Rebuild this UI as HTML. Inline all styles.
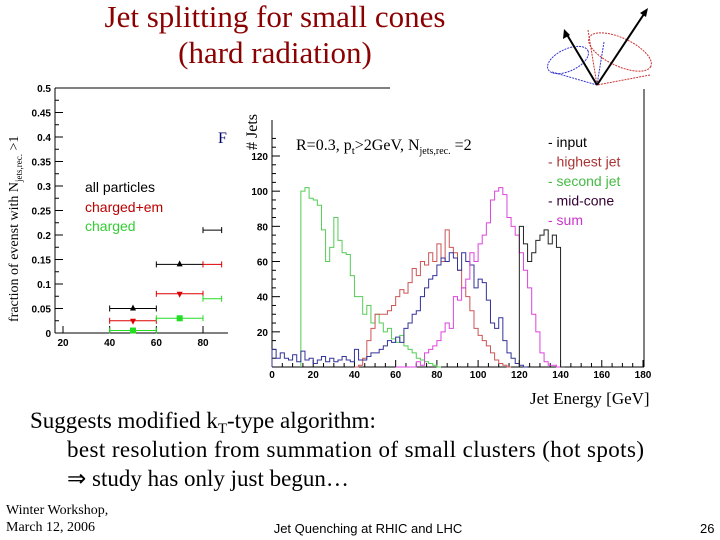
<!DOCTYPE html>
<html><head><meta charset="utf-8"><style>
body{margin:0;background:#fff;width:720px;height:540px;overflow:hidden}
svg{display:block}
.ser{font-family:"Liberation Serif",serif}
.san{font-family:"Liberation Sans",sans-serif}
</style></head><body>
<svg id="s" width="720" height="540" xmlns="http://www.w3.org/2000/svg">
<text class="ser" x="275" y="27" font-size="31" fill="#8b0000" text-anchor="middle">Jet splitting for small cones</text>
<text class="ser" x="275" y="63" font-size="31" fill="#8b0000" text-anchor="middle">(hard radiation)</text>
<g fill="none">
<ellipse cx="568" cy="60" rx="22" ry="11" stroke="#33c" stroke-dasharray="2,1" transform="rotate(-25 568 60)"/>
<line x1="552" y1="72" x2="597" y2="85" stroke="#33c" stroke-dasharray="2,1"/>
<line x1="604" y1="42" x2="597" y2="85" stroke="#33c" stroke-dasharray="2,1"/>
<ellipse cx="620" cy="52" rx="34" ry="14" stroke="#c33" stroke-dasharray="2,1" transform="rotate(25 620 52)"/>
<line x1="588" y1="30" x2="597" y2="85" stroke="#c33" stroke-dasharray="2,1"/>
<line x1="650" y1="75" x2="597" y2="85" stroke="#c33" stroke-dasharray="2,1"/>
<line x1="597" y1="85" x2="566" y2="33" stroke="#000" stroke-width="2"/>
<polygon points="564,29 563,39 570,35" fill="#000"/>
<line x1="597" y1="85" x2="646" y2="11" stroke="#000" stroke-width="2"/>
<polygon points="648,8 640,13 646,17" fill="#000"/>
</g>
<g id="left"></g>
<g id="hist"></g>
<text class="ser" x="530" y="404" font-size="17">Jet Energy [GeV]</text>
<text class="ser" x="30" y="428" font-size="23">Suggests modified k<tspan font-size="15" dy="5">T</tspan><tspan dy="-5">-type algorithm:</tspan></text>
<text class="ser" x="67" y="457" font-size="23" textLength="577">best resolution from summation of small clusters (hot spots)</text>
<text class="ser" x="67" y="486" font-size="23">⇒ study has only just begun…</text>
<text class="ser" x="6" y="514" font-size="14">Winter Workshop,</text>
<text class="ser" x="6" y="531" font-size="14">March 12, 2006</text>
<text class="san" x="368" y="533" font-size="13" text-anchor="middle">Jet Quenching at RHIC and LHC</text>
<text class="san" x="700" y="533" font-size="13">26</text>
</svg>
<script>
// ---- left plot data ----
const fracX = [50, 70, 84];
const fracXlo = [40, 60, 80];
const fracXhi = [60, 80, 88];
const fracAll = [0.05, 0.14, 0.21];
const fracChEm = [0.025, 0.08, 0.14];
const fracCh = [0.005, 0.03, 0.07];
const leftYTicks = [0, 0.05, 0.1, 0.15, 0.2, 0.25, 0.3, 0.35, 0.4, 0.45, 0.5];
const leftYLabels = ["0","0.05","0.1","0.15","0.2","0.25","0.3","0.35","0.4","0.45","0.5"];
const leftXTicks = [20, 40, 60, 80];

// ---- histogram data (2 GeV bins) ----
const binW = 2;
const greenStart = 14;
const greenVals = [100,102,96,95,92,78,60,68,85,72,65,64,52,40,40,30,35,25,30,25,20,22,16,14,18,12,10,8,5,4,3,2,1,0];
const redStart = 40;
const redVals = [0,1,5,15,22,30,30,30,32,35,40,44,42,48,56,52,60,58,65,60,70,60,78,68,65,55,45,40,32,22,18,15,12,8,4,2,1,0];
const blueStart = 0;
const blueVals = [10,5,8,5,4,7,3,9,4,5,2,4,6,3,5,3,4,6,4,3,10,4,4,6,8,8,10,12,15,14,17,14,22,25,30,32,40,45,50,52,58,62,60,65,62,55,65,60,58,45,50,48,38,25,22,28,15,8,5,2,1,0];
const pinkStart = 60;
const pinkVals = [0,0,0,0,0,3,1,8,10,12,15,20,25,22,40,38,45,50,65,60,70,75,82,95,100,102,98,85,80,75,65,55,45,30,20,8,3,1,1,0];
const blackStart = 120;
const blackVals = [80,70,60,65,72,75,78,70,75,68,0];
const histXTicks = [0,20,40,60,80,100,120,140,160,180];
const histYTicks = [20,40,60,80,100,120];

const NS = "http://www.w3.org/2000/svg";
function mk(tag, attrs, parent, txt){const e=document.createElementNS(NS,tag);for(const k in attrs)e.setAttribute(k,attrs[k]);if(txt!==undefined)e.textContent=txt;parent.appendChild(e);return e;}

// left axes
const L = document.getElementById('left');
const lx = v => 63 + (v-20)*(140/60);
const ly = v => 333 - v*490;
let e;
e = mk('line',{x1:55,y1:88,x2:390,y2:88,stroke:'#000'},L);


e = mk('line',{x1:55,y1:88,x2:55,y2:333,stroke:'#000'},L);


e = mk('line',{x1:55,y1:333,x2:228,y2:333,stroke:'#000'},L);


leftYTicks.forEach((t,i)=>{
  mk('line',{x1:55,y1:ly(t),x2:63,y2:ly(t),stroke:'#000'},L);
  if(i<10) mk('line',{x1:55,y1:ly(t+0.025),x2:59,y2:ly(t+0.025),stroke:'#000'},L);
  e = mk('text',{x:51,y:ly(t)+4,'font-size':10,'font-weight':'bold','text-anchor':'end',class:'san'},L,leftYLabels[i]);
  
  
});
leftXTicks.forEach(t=>{
  mk('line',{x1:lx(t),y1:333,x2:lx(t),y2:326,stroke:'#000'},L);
  e = mk('text',{x:lx(t),y:346,'font-size':10,'font-weight':'bold','text-anchor':'middle',class:'san'},L,String(t));
  
  
});
e = mk('text',{x:0,y:0,'font-size':14,class:'ser',transform:'translate(18,322) rotate(-90)'},L,'');


e.innerHTML='fraction of evenst with  N<tspan font-size="9" dy="4">jets,rec.</tspan><tspan dy="-4"> &gt;1</tspan>';
[['all particles','#000',192],['charged+em','#b00',212],['charged','#3c3',231]].forEach(([t,c,y])=>{
  e = mk('text',{x:85,y:y,'font-size':14,fill:c,class:'san'},L,t);
  
  
});
function series(vals,col,shape,name){
  vals.forEach((v,i)=>{
    const y=ly(v), x=lx(fracX[i]);
    e = mk('line',{x1:lx(fracXlo[i]),y1:y,x2:lx(fracXhi[i]),y2:y,stroke:col},L);
    
    
    mk('line',{x1:lx(fracXlo[i]),y1:y-3,x2:lx(fracXlo[i]),y2:y+3,stroke:col},L);
    mk('line',{x1:lx(fracXhi[i]),y1:y-3,x2:lx(fracXhi[i]),y2:y+3,stroke:col},L);
    if(i<2){
      let p;
      if(shape==='up') p=mk('polygon',{points:`${x-3},${y+2} ${x+3},${y+2} ${x},${y-4}`,fill:col},L);
      else if(shape==='down') p=mk('polygon',{points:`${x-3},${y-2} ${x+3},${y-2} ${x},${y+4}`,fill:col},L);
      else p=mk('rect',{x:x-3,y:y-3,width:6,height:6,fill:col},L);
      
      
    }
  });
}
series(fracAll,'#000','up','all-particles');
series(fracChEm,'#d00','down','charged-em');
series(fracCh,'#2d2','sq','charged');

// histogram
const H = document.getElementById('hist');
const hx = v => 272 + v*(371/180);
const hy = v => 367 - v*(211/120);
e = mk('rect',{x:228,y:89,width:420,height:295,fill:'#fff'},H);


mk('line',{x1:272,y1:120,x2:272,y2:367,stroke:'#000'},H);
mk('line',{x1:272,y1:367,x2:644,y2:367,stroke:'#000'},H);
mk('line',{x1:644,y1:89,x2:644,y2:367,stroke:'#000'},H);
for(let v=0;v<=130;v+=5){mk('line',{x1:272,y1:hy(v),x2:v%20===0?280:276,y2:hy(v),stroke:'#000'},H);}
for(let v=0;v<=180;v+=5){mk('line',{x1:hx(v),y1:367,x2:hx(v),y2:v%20===0?360:363,stroke:'#000'},H);}
histYTicks.forEach(t=>{
  e = mk('text',{x:268,y:hy(t)+4,'font-size':10,'font-weight':'bold','text-anchor':'end',class:'san'},H,String(t));
  
  
});
histXTicks.forEach(t=>{
  e = mk('text',{x:hx(t),y:378,'font-size':10,'font-weight':'bold','text-anchor':'middle',class:'san'},H,String(t));
  
  
});
e = mk('text',{x:0,y:0,'font-size':16,class:'ser',transform:'translate(257,150) rotate(-90)'},H,'# Jets');


mk('text',{x:218,y:143,'font-size':16,fill:'#000066',class:'ser'},H,'F');
function hist(start,vals,col,name){
  let d=`M${hx(start)},${hy(0)}`;
  vals.forEach((v,i)=>{d+=` L${hx(start+i*binW)},${hy(v)} L${hx(start+(i+1)*binW)},${hy(v)}`;});
  d+=` L${hx(start+vals.length*binW)},${hy(0)}`;
  const p=mk('path',{d:d,fill:'none',stroke:col,'stroke-width':1},H);
  
  
}
hist(greenStart,greenVals,'#5c5','hist-second-jet');
hist(redStart,redVals,'#c55','hist-highest-jet');
hist(blueStart,blueVals,'#339','hist-mid-cone');
hist(pinkStart,pinkVals,'#d4d','hist-sum');
hist(blackStart,blackVals,'#222','hist-input');
e = mk('text',{x:296,y:150,'font-size':16,class:'ser'},H,'');


e.innerHTML='R=0.3, p<tspan font-size="11" dy="4">t</tspan><tspan dy="-4">&gt;2GeV, N</tspan><tspan font-size="10" dy="4">jets,rec.</tspan><tspan dy="-4"> =2</tspan>';
[['- input','#000'],['- highest jet','#a33'],['- second jet','#4b4'],['- mid-cone','#303'],['- sum','#c3c']].forEach(([t,c],i)=>{
  e = mk('text',{x:548,y:147+i*19.5,'font-size':14,fill:c,class:'san'},H,t);
  
  
});
</script>
</body></html>
